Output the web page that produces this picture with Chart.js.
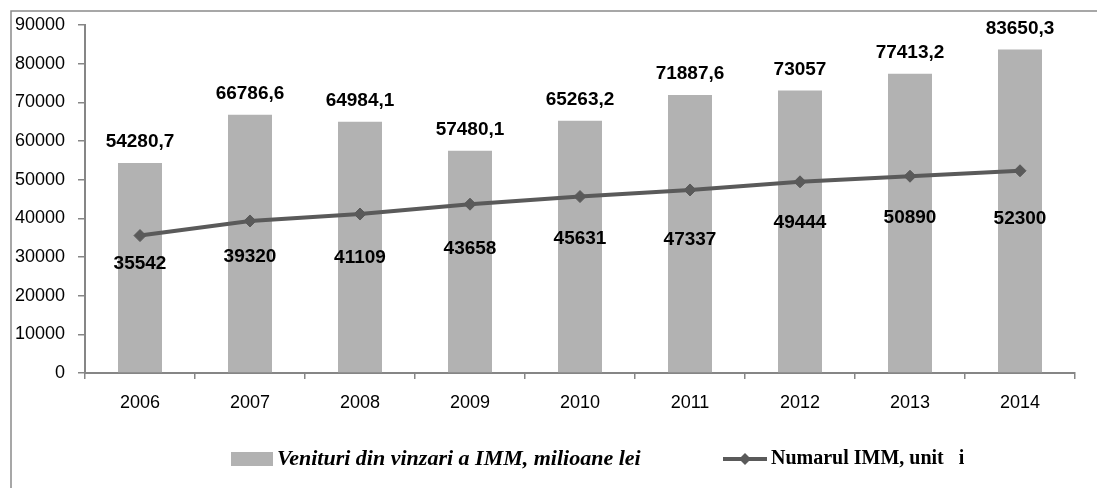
<!DOCTYPE html>
<html>
<head>
<meta charset="utf-8">
<script src="https://cdn.jsdelivr.net/npm/chart.js@4/dist/chart.umd.min.js"></script>
<style>
  html, body { margin: 0; padding: 0; background: #fff; }
  canvas { display: block; }
</style>
</head>
<body>
<canvas id="imm" width="1097" height="488"></canvas>
<script>
// --- DONNEES ---
const years = ['2006', '2007', '2008', '2009', '2010', '2011', '2012', '2013', '2014'];
const venituri = [54280.7, 66786.6, 64984.1, 57480.1, 65263.2, 71887.6, 73057, 77413.2, 83650.3];
const numarIMM = [35542, 39320, 41109, 43658, 45631, 47337, 49444, 50890, 52300];
const yMin = 0;
const yMax = 90000;
const yStep = 10000;

const labelVenituri = 'Venituri din vinzari a IMM, milioane lei';
const labelNumar = 'Numarul IMM, unit   i';

const barColor = '#b2b2b2';
const lineColor = '#5a5a5a';
const axisColor = '#868686';

// decalage des etiquettes de la courbe (sous les points)
const lineLabelOffsets = [28, 36, 44, 45, 42, 50, 41, 42, 48];

const fmt = v => String(v).replace('.', ',');

// --- CADRE ---
const framePlugin = {
  id: 'frame',
  beforeDraw(chart) {
    const ctx = chart.ctx;
    ctx.save();
    ctx.fillStyle = '#fff';
    ctx.fillRect(0, 0, chart.width, chart.height);
    ctx.strokeStyle = '#8a8a8a';
    ctx.lineWidth = 1.5;
    ctx.strokeRect(11, 11, chart.width + 20, chart.height + 20);
    ctx.restore();
  }
};

// --- ETIQUETTES DE VALEURS ---
const valuePlugin = {
  id: 'values',
  afterDatasetsDraw(chart) {
    const ctx = chart.ctx;
    ctx.save();
    ctx.font = 'bold 19px "Liberation Sans", Arial, sans-serif';
    ctx.fillStyle = '#000';
    ctx.textAlign = 'center';
    ctx.textBaseline = 'middle';
    chart.getDatasetMeta(0).data.forEach((el, i) => {
      ctx.fillText(fmt(venituri[i]), el.x, el.y - 21);
    });
    chart.getDatasetMeta(1).data.forEach((el, i) => {
      ctx.fillText(fmt(numarIMM[i]), el.x, el.y + lineLabelOffsets[i]);
    });
    ctx.restore();
  }
};

// --- LEGENDE ---
const legendPlugin = {
  id: 'customLegend',
  afterDraw(chart) {
    const ctx = chart.ctx;
    const y = 459;
    ctx.save();
    ctx.fillStyle = barColor;
    ctx.fillRect(231, y - 7, 42, 14);
    ctx.fillStyle = '#000';
    ctx.textBaseline = 'middle';
    ctx.textAlign = 'left';
    ctx.font = 'italic bold 22px "Liberation Serif", "Times New Roman", serif';
    ctx.fillText(labelVenituri, 277, y);

    ctx.strokeStyle = lineColor;
    ctx.lineWidth = 4;
    ctx.beginPath();
    ctx.moveTo(723, y);
    ctx.lineTo(767, y);
    ctx.stroke();
    ctx.fillStyle = lineColor;
    ctx.beginPath();
    ctx.moveTo(745, y - 6);
    ctx.lineTo(751, y);
    ctx.lineTo(745, y + 6);
    ctx.lineTo(739, y);
    ctx.closePath();
    ctx.fill();

    ctx.fillStyle = '#000';
    ctx.font = 'bold 20px "Liberation Serif", "Times New Roman", serif';
    ctx.fillText(labelNumar, 771, y);
    ctx.restore();
  }
};

new Chart(document.getElementById('imm'), {
  type: 'bar',
  data: {
    labels: years,
    datasets: [
      {
        type: 'bar',
        label: labelVenituri,
        data: venituri,
        backgroundColor: barColor,
        borderWidth: 0,
        categoryPercentage: 1,
        barPercentage: 0.4,
        order: 2
      },
      {
        type: 'line',
        label: labelNumar,
        data: numarIMM,
        borderColor: lineColor,
        backgroundColor: lineColor,
        borderWidth: 4,
        pointStyle: 'rectRot',
        pointRadius: 6,
        pointBorderWidth: 1,
        tension: 0,
        order: 1
      }
    ]
  },
  options: {
    responsive: false,
    animation: false,
    devicePixelRatio: 1,
    layout: { padding: { top: 25, right: 22, bottom: 0, left: 0 } },
    plugins: {
      legend: { display: false },
      tooltip: { enabled: false }
    },
    scales: {
      x: {
        offset: true,
        grid: { offset: true, drawOnChartArea: false, drawTicks: true, tickLength: 6, color: axisColor, lineWidth: 1.5 },
        border: { color: axisColor, width: 2 },
        ticks: { color: '#000', padding: 13, font: { family: '"Liberation Sans", Arial, sans-serif', size: 18 } },
        afterFit(scale) { scale.height = 115; }
      },
      y: {
        min: yMin,
        max: yMax,
        ticks: {
          stepSize: yStep,
          color: '#000',
          padding: 13,
          font: { family: '"Liberation Sans", Arial, sans-serif', size: 18 },
          callback: v => String(v)
        },
        grid: { drawOnChartArea: false, drawTicks: true, tickLength: 7, color: axisColor, lineWidth: 1.5 },
        border: { color: axisColor, width: 2 },
        afterFit(scale) { scale.width = 85; }
      }
    }
  },
  plugins: [framePlugin, valuePlugin, legendPlugin]
});
</script>
</body>
</html>
